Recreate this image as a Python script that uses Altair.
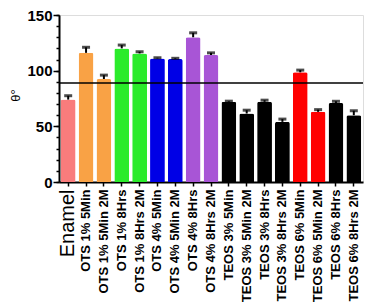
import altair as alt
import pandas as pd

categories = ["Enamel", "OTS 1% 5Min", "OTS 1% 5Min 2M", "OTS 1% 8Hrs", "OTS 1% 8Hrs 2M",
              "OTS 4% 5Min", "OTS 4% 5Min 2M", "OTS 4% 8Hrs", "OTS 4% 8Hrs 2M",
              "TEOS 3% 5Min", "TEOS 3% 5Min 2M", "TEOS 3% 8Hrs", "TEOS 3% 8Hrs 2M",
              "TEOS 6% 5Min", "TEOS 6% 5Min 2M", "TEOS 6% 8Hrs", "TEOS 6% 8Hrs 2M"]
values = [74, 116, 92.5, 120, 115.5, 111, 110.5, 130, 114, 72, 61.5, 72, 54, 98.5, 63, 71, 60]
errors = [3.5, 5, 3.5, 3, 1.5, 0.6, 0.6, 4, 2, 0.6, 3, 1.5, 2.5, 2, 2, 1.5, 4]
groups = ["Enamel", "OTS 1% 5Min", "OTS 1% 5Min", "OTS 1% 8Hrs", "OTS 1% 8Hrs",
          "OTS 4% 5Min", "OTS 4% 5Min", "OTS 4% 8Hrs", "OTS 4% 8Hrs",
          "TEOS 3%", "TEOS 3%", "TEOS 3%", "TEOS 3%",
          "TEOS 6% 5Min", "TEOS 6% 5Min", "TEOS 6% 8Hrs", "TEOS 6% 8Hrs"]
group_names = ["Enamel", "OTS 1% 5Min", "OTS 1% 8Hrs", "OTS 4% 5Min", "OTS 4% 8Hrs",
               "TEOS 3%", "TEOS 6% 5Min", "TEOS 6% 8Hrs"]
group_colors = ["#F97C7C", "#F9A245", "#2BEB2B", "#0000E6", "#A855D6",
                "#000000", "#FF0000", "#000000"]
major_ticks = [0, 50, 100, 150]
minor_ticks = list(range(0, 151, 10))
threshold = [89]

df = pd.DataFrame({"cat": categories, "val": values, "err": errors, "grp": groups})
df["top"] = df["val"] + df["err"]

FONT = "Liberation Sans"

x_axis = alt.Axis(labelAngle=-90, labelFont=FONT,
                  labelFontSize=alt.expr("datum.value == 'Enamel' ? 20 : 13"),
                  labelFontWeight=alt.expr("datum.value == 'Enamel' ? 'normal' : 'bold'"),
                  labelColor="black", labelPadding=3,
                  tickColor="black", tickSize=4, tickWidth=1.5,
                  domainColor="black", domainWidth=2)
x_scale = alt.Scale(paddingInner=0.17, paddingOuter=0.1)

y_scale = alt.Scale(domain=[0, 150], nice=False)

bars = alt.Chart(df).mark_bar(cornerRadiusTopLeft=2, cornerRadiusTopRight=2).encode(
    x=alt.X("cat:N", sort=categories, title=None, scale=x_scale, axis=x_axis),
    y=alt.Y("val:Q", scale=y_scale, title="θ°",
            axis=alt.Axis(values=major_ticks, labelOverlap=False, orient="left",
                          labelFont=FONT, labelFontSize=15, labelFontWeight="bold",
                          labelColor="black", labelPadding=1,
                          tickColor="black", tickWidth=1.5, tickSize=6,
                          domainColor="black", domainWidth=2, grid=False,
                          titleFont=FONT, titleFontSize=13, titleFontWeight="normal",
                          titleColor="black", titleAngle=-90,
                          titleX=-44, titleY=80, titleAlign="center", titleBaseline="middle")),
    color=alt.Color("grp:N", scale=alt.Scale(domain=group_names, range=group_colors), legend=None),
)

minor = alt.Chart(df).mark_point(opacity=0).encode(
    x=alt.X("cat:N", sort=categories, title=None, scale=x_scale, axis=x_axis),
    y=alt.Y("val:Q", scale=y_scale, title=None,
            axis=alt.Axis(values=minor_ticks, labels=False, orient="left",
                          tickColor="black", tickWidth=1.5, tickSize=3,
                          domain=False, grid=False)),
)

err_rule = alt.Chart(df).mark_rule(color="black", strokeWidth=2).encode(
    x=alt.X("cat:N", sort=categories, title=None, scale=x_scale, axis=x_axis),
    y=alt.Y("val:Q", scale=y_scale, axis=None),
    y2="top:Q",
)
err_cap = alt.Chart(df).mark_tick(color="black", size=8, thickness=3, orient="horizontal").encode(
    x=alt.X("cat:N", sort=categories, title=None, scale=x_scale, axis=x_axis),
    y=alt.Y("top:Q", scale=y_scale, axis=None),
)

hline = alt.Chart(pd.DataFrame({"y": threshold})).mark_rule(color="black", strokeWidth=1.5).encode(
    y=alt.Y("y:Q", scale=y_scale, axis=None)
)

chart = alt.layer(bars, minor, err_rule, err_cap, hline).resolve_axis(y="independent").properties(
    width=304, height=167,
    autosize=alt.AutoSizeParams(type="none"),
    padding={"left": 51, "top": 7, "right": 2, "bottom": 124},
).configure_view(stroke=None).configure(background="white")

chart.save("out.html", embed_options={"renderer": "svg", "actions": False})
